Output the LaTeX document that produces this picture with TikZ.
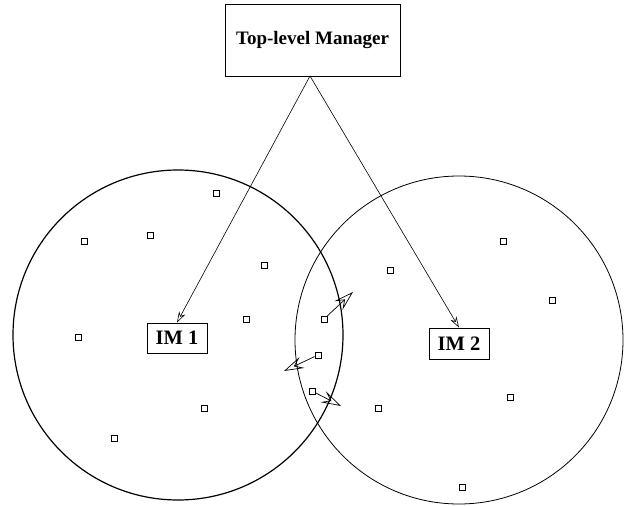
\documentclass[tikz,border=0pt]{standalone}
\usepackage{fontspec}
\setmainfont{Liberation Serif}
\usetikzlibrary{arrows.meta}
\begin{document}
\begin{tikzpicture}[x=1pt,y=-1pt,
  lbl/.style={draw,line width=0.9pt,font=\fontsize{19}{21}\selectfont\bfseries,inner sep=0pt},
  imlbl/.style={lbl,font=\fontsize{20.5}{22}\selectfont\bfseries},
  agent/.style={draw,line width=0.7pt,minimum size=6pt,inner sep=0pt},
  mgr/.style={-{Stealth[open,length=11pt,width=7pt]},line width=0.6pt},
  mig/.style={-{Stealth[open,length=20pt,width=12pt,inset=8pt]},line width=0.7pt}]
\useasboundingbox (0,0) rectangle (625,506);
% circles
\draw[line width=1.2pt] (178,335) circle[radius=165];
\draw[line width=0.8pt] (459,340) circle[radius=164];
% boxes
\node[lbl,minimum width=175pt,minimum height=72pt] (top) at (312.5,40) {Top-level Manager};
\node[imlbl,minimum width=60pt,minimum height=30pt] (im1) at (177,338) {IM 1};
\node[imlbl,minimum width=60pt,minimum height=31pt] (im2) at (459,343.5) {IM 2};
\coordinate (src) at (310,76);
\draw[mgr] (src) -- (im1.north);
\draw[mgr] (src) -- (im2.north);
% agents
\foreach \n/\x/\y in {a1/216/193,a2/84/241,a3/150/235,a4/264/265,a5/246/319,a6/78/337,a7/204/408,a8/114/438,
  m1/324/319,m2/318/355,m3/312/391,
  b1/390/270,b2/503/241,b3/552/300,b4/378/408,b5/510/397,b6/462/487}
  \node[agent] (\n) at (\x,\y) {};
% migration arrows
\coordinate (t1) at (353,292);
\coordinate (t2) at (284,371);
\coordinate (t3) at (341,406);
\draw[mig] (m1) -- (t1);
\draw[mig] (m2) -- (t2);
\draw[mig] (m3) -- (t3);
\end{tikzpicture}
\end{document}
